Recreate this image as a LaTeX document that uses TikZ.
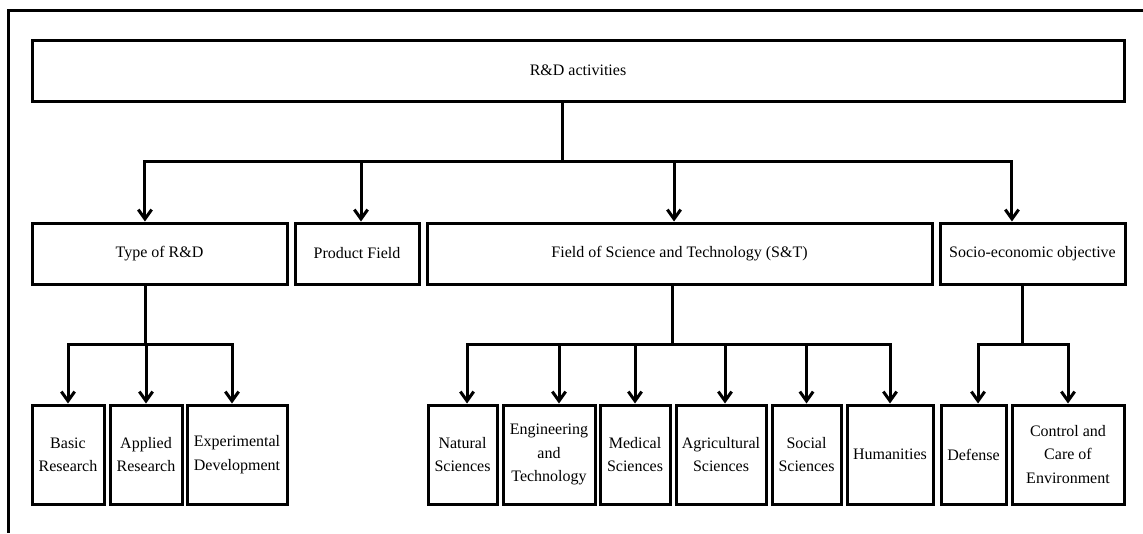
\documentclass[tikz,border=0pt]{standalone}
\usepackage{fontspec}
\setmainfont{Liberation Serif}
\usetikzlibrary{arrows.meta}

\begin{document}
\begin{tikzpicture}
    [x=0.75pt,y=-0.75pt,
     box/.style={draw=black,line width=2.25pt,inner sep=0pt,align=center,
       font=\fontsize{12}{17.5}\selectfont},
     mid/.style={box,minimum height=45.75pt},
     leaf/.style={box,minimum height=74.25pt},
     bar/.style={line width=2.25pt},
     pre/.style={-{Straight Barb[length=7pt,width=10pt]},line width=2.25pt}]
    \useasboundingbox (0,0) rectangle (1143,533);
    % frame
    \draw [bar] (1143,10) -| (8,533);
    % root
    \node [box,minimum width=819pt,minimum height=45.75pt] (rd) at (578,70.5) {R\&D activities};
    % second row
    \node [mid,minimum width=191.25pt] (type) at (159.5,253.5) {Type of R\&D};
    \node [mid,minimum width=93pt] (prod) at (357,253.5) {Product Field};
    \node [mid,minimum width=378.75pt] (sat) at (679.5,253.5) {Field of Science and Technology (S\&T)};
    \node [mid,minimum width=138.75pt] (socio) at (1032.5,253.5) {Socio-economic objective};
    % third row
    \node [leaf,minimum width=54pt] (basic) at (68,454.5) {Basic\\Research};
    \node [leaf,minimum width=54pt] (appl) at (146,454.5) {Applied\\Research};
    \node [leaf,minimum width=75pt] (exper) at (237,454.5) {Experimental\\Development};
    \node [leaf,minimum width=51.75pt] (nat) at (462.5,454.5) {Natural\\Sciences};
    \node [leaf,minimum width=69pt] (eng) at (549,454.5) {Engineering\\and\\Technology};
    \node [leaf,minimum width=52.5pt] (med) at (635,454.5) {Medical\\Sciences};
    \node [leaf,minimum width=67.5pt] (agri) at (721,454.5) {Agricultural\\Sciences};
    \node [leaf,minimum width=51.75pt] (soc) at (806.5,454.5) {Social\\Sciences};
    \node [leaf,minimum width=64.5pt] (hum) at (890,454.5) {Humanities};
    \node [leaf,minimum width=48.75pt] (def) at (973.5,454.5) {Defense};
    \node [leaf,minimum width=84pt] (env) at (1068,454.5) {Control and\\Care of\\Environment};
    % junctions
    \coordinate (j0) at (562,161);
    \coordinate (j1) at (145,344);
    \coordinate (j2) at (672,344);
    \coordinate (j3) at (1022,344);
    % root to second row
    \draw [bar] (rd.south -| j0) -- (j0);
    \draw [pre] (j0) -| ([xshift=-10.9pt]type.north);
    \draw [pre] (j0) -| ([xshift=3pt]prod.north);
    \draw [pre] (j0) -| ([xshift=-4.1pt]sat.north);
    \draw [pre] (j0) -| ([xshift=-15.4pt]socio.north);
    % type of R&D
    \draw [bar] (type.south -| j1) -- (j1);
    \draw [pre] (j1) -| (basic.north);
    \draw [pre] (j1) -| (appl.north);
    \draw [pre] (j1) -| ([xshift=-3.75pt]exper.north);
    % field of S&T
    \draw [bar] (sat.south -| j2) -- (j2);
    \draw [pre] (j2) -| ([xshift=3.4pt]nat.north);
    \draw [pre] (j2) -| ([xshift=7.5pt]eng.north);
    \draw [pre] (j2) -| (med.north);
    \draw [pre] (j2) -| ([xshift=3pt]agri.north);
    \draw [pre] (j2) -| (soc.north);
    \draw [pre] (j2) -| (hum.north);
    % socio-economic objective
    \draw [bar] (socio.south -| j3) -- (j3);
    \draw [pre] (j3) -| ([xshift=3.4pt]def.north);
    \draw [pre] (j3) -| (env.north);
\end{tikzpicture}
\end{document}
